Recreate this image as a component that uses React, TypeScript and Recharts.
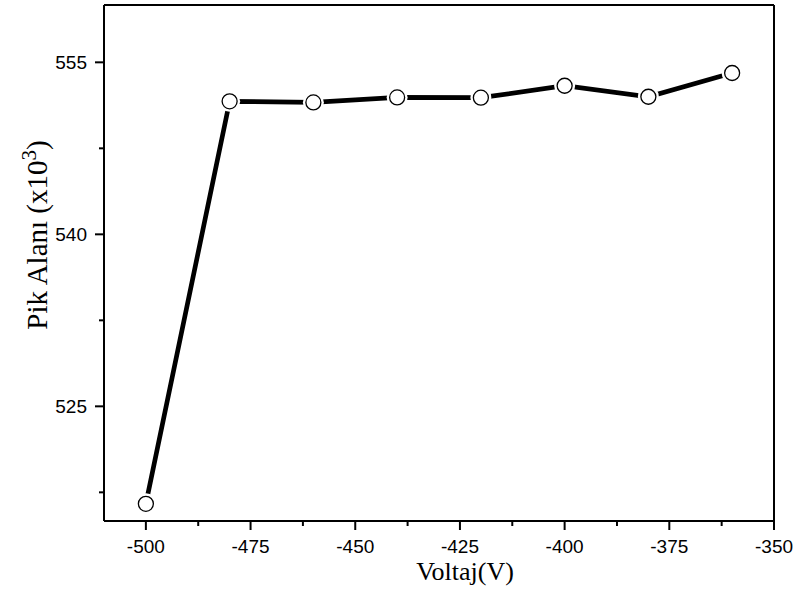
import { LineChart, Line, XAxis, YAxis, Label } from "recharts";

const voltage = [-500, -480, -460, -440, -420, -400, -380, -360];
const area = [516.5, 551.6, 551.5, 551.94, 551.92, 552.96, 552.0, 554.07];

const xMajor = [-500, -475, -450, -425, -400, -375, -350];
const xMinor = [-487.5, -462.5, -437.5, -412.5, -387.5, -362.5];
const yMajor = [525, 540, 555];
const yMinor = [517.5, 532.5, 547.5];

const data = voltage.map((v, i) => ({ v, a: area[i] }));

const TICK = 9;
const MARGIN_X = 10;
const MARGIN_Y = 8;

function XTick(props: any) {
  const { x, y, payload } = props;
  const axisY = y - TICK - MARGIN_X;
  const major = xMajor.includes(payload.value);
  return (
    <g>
      <line x1={x} x2={x} y1={axisY} y2={axisY + (major ? TICK : 5)} stroke="#000" strokeWidth={2} />
      {major && (
        <text x={x} y={y} dy="0.71em" textAnchor="middle" fontSize={19} fontFamily="Liberation Sans, Arial" fill="#000">
          {payload.value}
        </text>
      )}
    </g>
  );
}

function YTick(props: any) {
  const { x, y, payload } = props;
  const axisX = x + TICK + MARGIN_Y;
  const major = yMajor.includes(payload.value);
  return (
    <g>
      <line x1={axisX} x2={axisX - (major ? TICK : 5)} y1={y} y2={y} stroke="#000" strokeWidth={2} />
      {major && (
        <text x={x} y={y} dy="0.355em" textAnchor="end" fontSize={19} fontFamily="Liberation Sans, Arial" fill="#000">
          {payload.value}
        </text>
      )}
    </g>
  );
}

function Dot(props: any) {
  const { cx, cy } = props;
  return (
    <g>
      <circle cx={cx} cy={cy} r={10.5} fill="#fff" />
      <circle cx={cx} cy={cy} r={7.5} fill="#fff" stroke="#000" strokeWidth={1.3} />
    </g>
  );
}

export default function App() {
  return (
    <div style={{ position: "absolute", left: 0, top: 0, width: 795, height: 592, background: "#fff" }}>
      <LineChart width={795} height={592} data={data} margin={{ top: 4, right: 20, bottom: 0, left: 0 }}>
        <XAxis
          dataKey="v"
          type="number"
          domain={[-510, -350]}
          ticks={[...xMajor, ...xMinor].sort((a, b) => a - b)}
          interval={0}
          height={71}
          tickSize={TICK}
          tickMargin={MARGIN_X}
          tickLine={false}
          axisLine={{ stroke: "#000", strokeWidth: 2 }}
          tick={<XTick />}
        >
          <Label
            content={() => (
              <text x={465} y={580} textAnchor="middle" fontSize={26} fontFamily="Liberation Serif, Times New Roman" fill="#000">
                Voltaj(V)
              </text>
            )}
          />
        </XAxis>
        <XAxis
          xAxisId="top"
          orientation="top"
          type="number"
          domain={[-510, -350]}
          height={1}
          tick={false}
          tickLine={false}
          axisLine={{ stroke: "#000", strokeWidth: 2 }}
        />
        <YAxis
          type="number"
          domain={[515, 560]}
          ticks={[...yMajor, ...yMinor].sort((a, b) => a - b)}
          interval={0}
          width={104}
          tickSize={TICK}
          tickMargin={MARGIN_Y}
          tickLine={false}
          axisLine={{ stroke: "#000", strokeWidth: 2 }}
          tick={<YTick />}
        >
          <Label
            content={() => (
              <text
                x={47}
                y={235}
                transform="rotate(-90, 47, 235)"
                textAnchor="middle"
                fontSize={29}
                fontFamily="Liberation Serif, Times New Roman"
                fill="#000"
              >
                Pik Alanı (x10
                <tspan dy={-11} fontSize={21}>3</tspan>
                <tspan dy={11}>)</tspan>
              </text>
            )}
          />
        </YAxis>
        <YAxis
          yAxisId="right"
          orientation="right"
          type="number"
          domain={[515, 560]}
          width={1}
          tick={false}
          tickLine={false}
          axisLine={{ stroke: "#000", strokeWidth: 2 }}
        />
        <Line
          dataKey="a"
          stroke="#000"
          strokeWidth={4.7}
          dot={<Dot />}
          activeDot={false}
          isAnimationActive={false}
        />
      </LineChart>
    </div>
  );
}
